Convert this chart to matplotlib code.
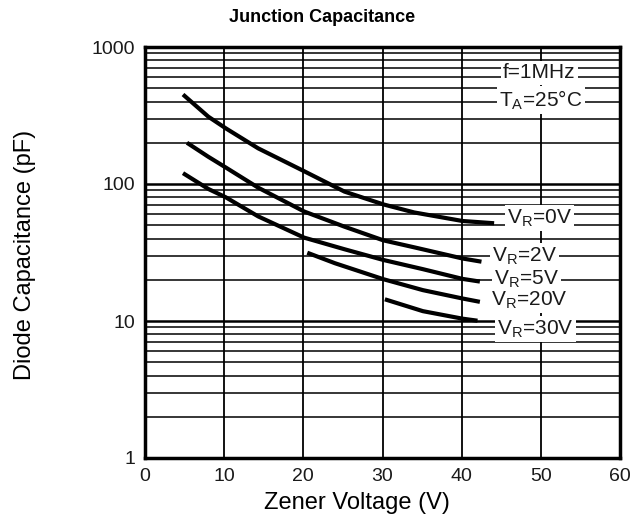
import matplotlib
matplotlib.use("Agg")
import matplotlib.pyplot as plt
from matplotlib.ticker import LogLocator, NullFormatter, FixedLocator

plt.rcParams['font.family'] = ['Liberation Sans', 'DejaVu Sans']

# curve data (zener voltage in V, capacitance in pF)
v_0v = [4.8, 8.0, 10.2, 14.3, 20.1, 25.2, 30.1, 34.0, 40.1, 44.1]
c_0v = [450, 310, 255, 182, 124, 88, 71, 62, 53.7, 51.7]

v_2v = [5.3, 8.0, 10.2, 14.3, 20.1, 25.2, 30.1, 34.0, 40.1, 42.5]
c_2v = [200, 158, 132, 94, 63, 48.8, 38.8, 34.5, 28.6, 27.1]

v_5v = [4.8, 8.0, 10.2, 14.3, 20.1, 25.2, 30.1, 35.1, 40.1, 42.3]
c_5v = [120, 92, 80, 58, 40.6, 33.4, 27.9, 23.9, 20.3, 19.4]

v_20v = [20.5, 24.0, 30.1, 35.1, 40.1, 42.3]
c_20v = [31.5, 26.4, 20.2, 16.8, 14.6, 13.8]

v_30v = [30.3, 35.1, 40.1, 42.0]
c_30v = [14.4, 11.8, 10.4, 10.05]

curve_labels = ['V$_\\mathregular{R}$=0V', 'V$_\\mathregular{R}$=2V', 'V$_\\mathregular{R}$=5V',
                'V$_\\mathregular{R}$=20V', 'V$_\\mathregular{R}$=30V']
label_pos = [(49.8, 56.5), (47.9, 29.8), (48.2, 20.3), (48.5, 14.2), (49.3, 8.7)]

x_ticks = [0, 10, 20, 30, 40, 50, 60]
y_ticks = [1, 10, 100, 1000]

fig = plt.figure(figsize=(6.36, 5.21), dpi=100)
ax = fig.add_axes([145 / 636, 1 - 458 / 521, 475 / 636, 411 / 521])

ax.set_yscale('log')
ax.set_xlim(0, 60)
ax.set_ylim(1, 1000)

# grid: every 10 V, every 1-9 of each decade
for xv in x_ticks[1:-1]:
    ax.axvline(xv, color='black', lw=1.3, zorder=1)
for dec in [1, 10, 100]:
    for m in range(2, 10):
        ax.axhline(dec * m, color='black', lw=1.1, zorder=1)
    if dec > 1:
        ax.axhline(dec, color='black', lw=1.8, zorder=1)

for vx, cy in [(v_0v, c_0v), (v_2v, c_2v), (v_5v, c_5v), (v_20v, c_20v), (v_30v, c_30v)]:
    ax.plot(vx, cy, color='black', lw=3, solid_capstyle='butt', solid_joinstyle='round', zorder=3)

box = dict(facecolor='white', edgecolor='none', pad=1.5)
for lab, (lx, ly) in zip(curve_labels, label_pos):
    ax.text(lx, ly, lab, ha='center', va='center', fontsize=15, color='#1a1a1a', bbox=box, zorder=4)
ax.text(49.8, 646, 'f=1MHz', ha='center', va='center', fontsize=15, color='#1a1a1a', bbox=box, zorder=4)
ax.text(50.0, 410, 'T$_\\mathregular{A}$=25°C', ha='center', va='center', fontsize=15, color='#1a1a1a', bbox=box, zorder=4)

ax.xaxis.set_major_locator(FixedLocator(x_ticks))
ax.yaxis.set_major_locator(FixedLocator(y_ticks))
ax.yaxis.set_minor_locator(LogLocator(subs=range(2, 10)))
ax.yaxis.set_minor_formatter(NullFormatter())
ax.set_yticklabels([str(t) for t in y_ticks])
ax.tick_params(which='both', length=0, labelsize=14, colors='#1a1a1a')
ax.tick_params(axis='x', pad=7)
ax.tick_params(axis='y', pad=7)

for sp in ax.spines.values():
    sp.set_linewidth(2.5)
    sp.set_zorder(5)

fig.text(322 / 636, 1 - 17 / 521, 'Junction Capacitance', ha='center', va='center',
         fontsize=13, fontweight='bold')
fig.text(357 / 636, 1 - 503 / 521, 'Zener Voltage (V)', ha='center', va='center', fontsize=17)
fig.text(25 / 636, 1 - 255 / 521, 'Diode Capacitance (pF)', ha='center', va='center',
         rotation=90, fontsize=17)

fig.savefig('out.png', dpi=100)
